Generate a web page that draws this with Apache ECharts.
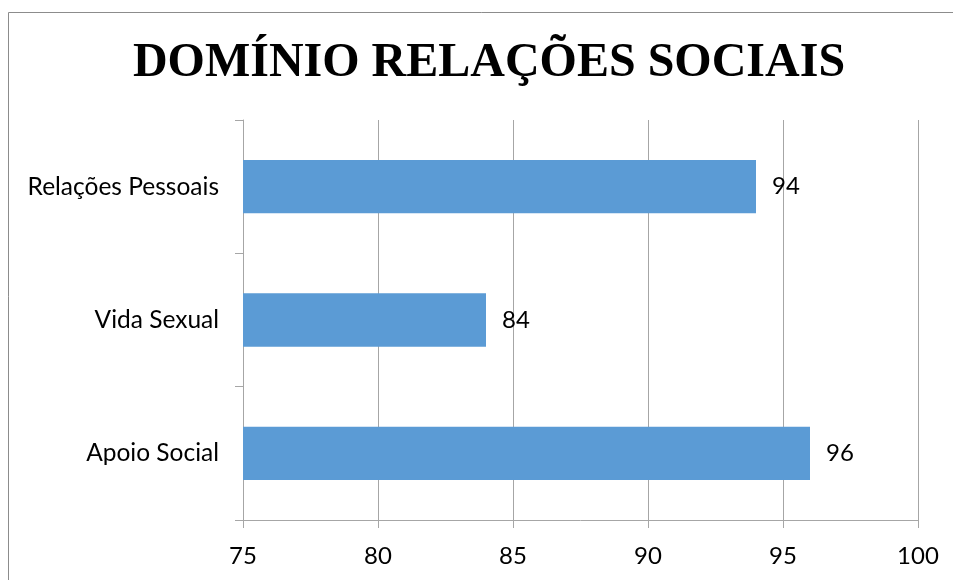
<!DOCTYPE html>
<html><head><meta charset="utf-8">
<script src="https://cdn.jsdelivr.net/npm/echarts@6/dist/echarts.min.js"></script>
<style>html,body{margin:0;padding:0;background:#fff}#c{width:953px;height:580px}</style>
</head><body><div id="c"></div>
<script>
const titleText = 'DOMÍNIO RELAÇÕES SOCIAIS';
const categories = ['Apoio Social', 'Vida Sexual', 'Relações Pessoais'];
const values = [96, 84, 94];
const xMin = 75, xMax = 100, xStep = 5;

const chart = echarts.init(document.getElementById('c'));
chart.setOption({
  backgroundColor: '#fff',
  animation: false,
  graphic: [{
    type: 'rect', shape: {x: 8.5, y: 12.5, width: 1000, height: 700},
    style: {fill: 'none', stroke: '#8c8c8c', lineWidth: 1}, silent: true
  }],
  title: {
    text: titleText, left: 484, top: 35, textAlign: 'center',
    textStyle: {fontFamily: 'Liberation Serif', fontWeight: 'bold', fontSize: 48, color: '#000'}
  },
  grid: {left: 243, right: 35, top: 120, bottom: 60, containLabel: false},
  xAxis: {
    type: 'value', min: xMin, max: xMax, interval: xStep,
    axisLine: {show: true, lineStyle: {color: '#a6a6a6'}},
    axisTick: {show: true, length: 8, lineStyle: {color: '#a6a6a6'}},
    splitLine: {show: true, lineStyle: {color: '#a6a6a6'}},
    axisLabel: {margin: 24, fontFamily: 'Lato', fontSize: 24, color: '#000'}
  },
  yAxis: {
    type: 'category', data: categories,
    axisLine: {show: true, lineStyle: {color: '#a6a6a6'}},
    axisTick: {show: true, length: 8, lineStyle: {color: '#a6a6a6'}},
    axisLabel: {margin: 24, fontFamily: 'Lato', fontSize: 24.5, color: '#000'}
  },
  series: [{
    type: 'bar', data: values, barWidth: '40%',
    itemStyle: {color: '#5b9bd5'},
    label: {show: true, position: 'right', distance: 16, fontFamily: 'Lato', fontSize: 24, color: '#000'}
  }]
});
</script></body></html>
